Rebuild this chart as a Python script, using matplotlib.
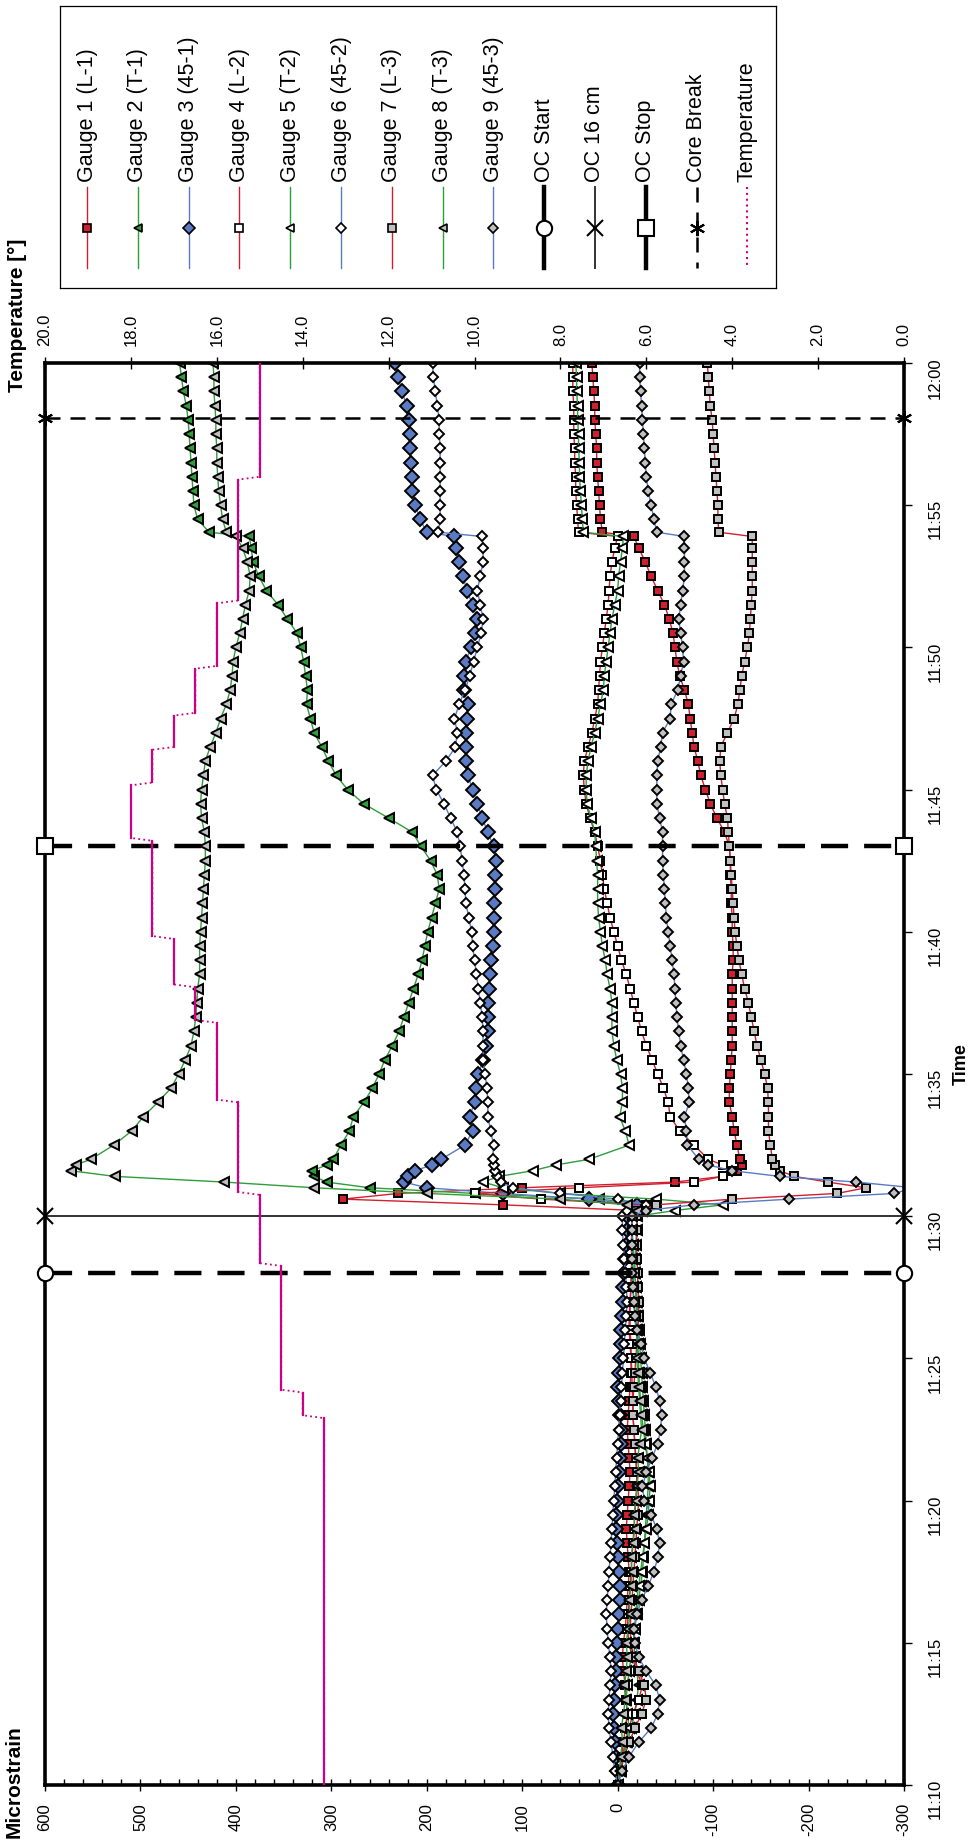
import matplotlib
matplotlib.use("Agg")
import matplotlib.pyplot as plt
from matplotlib.ticker import MultipleLocator, FixedLocator, FuncFormatter

plt.rcParams["font.family"] = ["Liberation Sans", "DejaVu Sans"]
plt.rcParams["axes.unicode_minus"] = False

# sampling clock, minutes after 11:00
TIME_PRE = [10.0 + 0.5 * i for i in range(40)]      # 11:10 .. 11:29:30
TIME_CUT = [30.0, 30.2, 30.4, 30.6, 30.8, 31.0, 31.2, 31.4, 31.6, 31.8, 32.0]
TIME_POST = [32.5 + 0.5 * i for i in range(43)]     # 11:32:30 .. 11:53:30
TIME_STEP = [53.9, 54.05]
TIME_END = [54.5 + 0.5 * i for i in range(12)]      # 11:54:30 .. 12:00
TIME = TIME_PRE + TIME_CUT + TIME_POST + TIME_STEP + TIME_END

# microstrain
GAUGE_1 = [
    0, -2, -4, -6, -8, -10, -9, -8, -6, -5,
    -6, -8, -9, -10, -11, -12, -11, -10, -9, -10,
    -11, -12, -13, -12, -11, -10, -11, -12, -13, -14,
    -14, -13, -12, -12, -13, -14, -15, -15, -14, -15,
    -15, -20, 120, 288, 230, 100, -60, -110, -125, -130, -128,
    -125, -122, -120, -117, -117, -118, -119, -120, -120, -120,
    -120, -120, -120, -121, -121, -120, -120, -119, -119, -118,
    -118, -117, -112, -104, -97, -92, -87, -84, -80, -78,
    -76, -74, -70, -65, -62, -60, -58, -54, -49, -42,
    -35, -29, -22,
    -17, 16,
    18, 19, 20, 21, 22, 22, 23, 24, 24, 25, 26, 27,
]
GAUGE_2 = [
    0, -3, -6, -10, -14, -18, -20, -22, -20, -18,
    -17, -18, -20, -22, -24, -26, -27, -28, -29, -30,
    -31, -32, -32, -31, -30, -29, -28, -27, -26, -25,
    -24, -23, -22, -21, -20, -19, -18, -17, -16, -15,
    -15, -25, -40, 20, 150, 260, 305, 318, 320, 305, 298,
    290, 281, 277, 266, 257, 250, 244, 236, 229, 224,
    219, 214, 209, 205, 202, 199, 195, 191, 187, 189,
    196, 206, 215, 240, 266, 283, 295, 303, 310, 318,
    322, 326, 325, 327, 329, 332, 336, 346, 356, 368,
    376, 382, 384,
    386, 428,
    440, 444, 445, 446, 447, 448, 449, 450, 452, 455, 457, 459,
]
GAUGE_3 = [
    0, 1, 2, 3, 4, 5, 4, 3, 2, 2,
    1, 0, -1, -2, -2, -1, 0, 1, 2, 2,
    1, 0, -1, -2, -3, -3, -2, -1, 0, -1,
    -2, -3, -4, -5, -6, -6, -7, -8, -9, -10,
    -10, -15, -20, 30, 120, 200, 224, 220, 212, 195, 185,
    160, 152, 155, 150, 148, 146, 141, 138, 136, 136,
    136, 135, 134, 133, 131, 130, 130, 130, 129, 128,
    127, 130, 136, 142, 147, 152, 157, 159, 159, 159,
    158, 157, 161, 161, 159, 154, 149, 147, 152, 158,
    162, 166, 169,
    171, 200,
    207, 212, 215, 216, 217, 218, 218, 219, 221, 226, 230, 233,
]
GAUGE_4 = [
    0, -2, -5, -8, -12, -16, -22, -26, -20, -15,
    -12, -10, -11, -12, -13, -14, -15, -16, -17, -18,
    -19, -20, -20, -19, -18, -17, -16, -16, -15, -15,
    -14, -14, -13, -13, -13, -14, -14, -15, -15, -15,
    -15, -20, -30, 80, 150, 40, -80, -110, -120, -110, -95,
    -80, -65, -55, -53, -48, -42, -36, -30, -25, -21,
    -17, -13, -9, -4, 0, 4, 8, 11, 14, 16,
    18, 21, 24, 29, 33, 35, 36, 35, 31, 27,
    24, 21, 20, 19, 18, 16, 14, 12, 10, 9,
    8, 6, 3,
    0, 41,
    42, 43, 44, 44, 45, 45, 46, 46, 46, 47, 47, 47,
]
GAUGE_5 = [
    0, -3, -6, -9, -12, -10, -9, -10, -12, -14,
    -16, -18, -19, -20, -22, -24, -26, -28, -30, -32,
    -33, -34, -33, -31, -29, -27, -25, -24, -23, -22,
    -22, -21, -20, -20, -19, -19, -18, -18, -19, -20,
    -20, -60, -110, -40, 60, 120, 141, 124, 89, 65, 30,
    -12, -8, -2, -5, -5, -3, 1, 4, 6, 6,
    6, 8, 11, 13, 16, 18, 20, 21, 21, 21,
    22, 23, 24, 28, 32, 33, 33, 31, 28, 24,
    21, 18, 15, 14, 12, 10, 8, 6, 3, 0,
    -1, -3, -5,
    -6, 36,
    37, 38, 39, 40, 40, 41, 41, 42, 42, 43, 43, 44,
]
GAUGE_6 = [
    0, 3, 5, 7, 9, 10, 9, 8, 7, 8,
    10, 11, 12, 11, 10, 9, 8, 7, 6, 5,
    4, 3, 2, 1, 0, -1, -2, -3, -4, -5,
    -6, -7, -8, -9, -10, -9, -8, -7, -6, -5,
    -5, -10, -30, 0, 60, 110, 122, 126, 128, 130, 131,
    130, 133, 136, 136, 137, 139, 141, 141, 141, 142,
    144, 146, 148, 150, 152, 153, 156, 159, 160, 161,
    163, 165, 168, 175, 182, 190, 194, 180, 170, 168,
    171, 166, 160, 155, 151, 147, 143, 141, 144, 147,
    144, 141, 141,
    142, 188,
    186, 186, 186, 186, 186, 186, 187, 187, 189, 191, 193, 194,
]
GAUGE_7 = [
    0, -3, -7, -12, -18, -25, -30, -28, -22, -17,
    -14, -13, -14, -15, -16, -17, -18, -19, -20, -21,
    -22, -21, -20, -19, -18, -17, -16, -16, -17, -18,
    -19, -20, -21, -22, -22, -21, -21, -20, -20, -20,
    -20, -25, -40, -120, -230, -260, -220, -185, -170, -165, -162,
    -160, -158, -158, -158, -157, -154, -150, -146, -143, -140,
    -137, -133, -130, -127, -125, -123, -122, -121, -120, -119,
    -118, -117, -116, -115, -112, -110, -108, -107, -108, -115,
    -122, -126, -128, -130, -133, -136, -138, -139, -140, -141,
    -141, -141, -141,
    -141, -106,
    -105, -105, -104, -103, -102, -101, -100, -99, -97, -96, -95, -94,
]
GAUGE_8 = [
    0, -2, -3, -5, -4, -6, -8, -7, -9, -10,
    -9, -11, -13, -12, -14, -15, -14, -16, -18, -17,
    -19, -20, -22, -21, -23, -25, -24, -23, -22, -21,
    -20, -21, -19, -18, -17, -16, -17, -15, -16, -15,
    -15, -20, -10, 60, 200, 318, 412, 527, 573, 568, 552,
    528, 509, 497, 482, 468, 460, 453, 447, 444, 442,
    441, 440, 438, 438, 438, 437, 436, 435, 434, 433,
    432, 432, 433, 436, 437, 436, 434, 432, 427, 421,
    416, 410, 406, 404, 403, 400, 396, 393, 390, 386,
    385, 388, 393,
    400, 410,
    414, 416, 418, 419, 420, 420, 421, 421, 422, 423, 423, 424,
]
GAUGE_9 = [
    0, -5, -12, -22, -35, -42, -44, -40, -30, -22,
    -18, -17, -20, -25, -32, -38, -42, -44, -41, -35,
    -28, -26, -30, -36, -42, -45, -46, -44, -40, -34,
    -28, -24, -20, -18, -17, -16, -15, -15, -15, -15,
    -15, -30, -80, -180, -290, -310, -250, -170, -120, -95, -85,
    -73, -72, -70, -75, -74, -72, -69, -66, -64, -62,
    -61, -60, -59, -57, -55, -53, -51, -50, -49, -48,
    -47, -47, -47, -44, -41, -41, -41, -42, -45, -47,
    -55, -56, -63, -66, -69, -68, -66, -64, -66, -68,
    -70, -70, -70,
    -70, -41,
    -38, -35, -32, -30, -29, -28, -27, -26, -25, -24, -23, -23,
]
GAUGES = [GAUGE_1, GAUGE_2, GAUGE_3, GAUGE_4, GAUGE_5,
          GAUGE_6, GAUGE_7, GAUGE_8, GAUGE_9]
GAUGE_NAMES = ["Gauge 1 (L-1)", "Gauge 2 (T-1)", "Gauge 3 (45-1)",
               "Gauge 4 (L-2)", "Gauge 5 (T-2)", "Gauge 6 (45-2)",
               "Gauge 7 (L-3)", "Gauge 8 (T-3)", "Gauge 9 (45-3)"]

# overcoring events (time) drawn across the whole strain range
EVENT_NAMES = ["OC Start", "OC 16 cm", "OC Stop", "Core Break"]
EVENT_TIMES = [28.0, 30.0, 43.0, 58.05]
EVENT_SPAN = [600, -300]

# temperature steps [°], secondary axis
TEMP_TIME = [10.0, 22.9, 23.0, 23.8, 23.9, 28.25, 28.35, 30.75, 30.85, 34.0,
             34.1, 36.8, 36.9, 38.05, 38.15, 39.75, 39.85, 43.2, 43.3, 45.15,
             45.25, 46.4, 46.5, 47.6, 47.7, 49.25, 49.35, 51.55, 51.65, 55.9,
             56.0, 60.0]
TEMP_VALUE = [13.5, 13.5, 14.0, 14.0, 14.5, 14.5, 15.0, 15.0, 15.5, 15.5,
              16.0, 16.0, 16.5, 16.5, 17.0, 17.0, 17.5, 17.5, 18.0, 18.0,
              17.5, 17.5, 17.0, 17.0, 16.5, 16.5, 16.0, 16.0, 15.5, 15.5,
              15.0, 15.0]

for g in GAUGES:
    assert len(g) == len(TIME)

RED, GREEN, BLUE, GRAY = "#D0202E", "#2E9E3A", "#5A7BC4", "#C0C0C0"
MAGENTA = "#CC0080"
STYLES = [
    dict(color=RED, marker="s", mfc=RED, ms=5.8),
    dict(color=GREEN, marker="<", mfc=GREEN, ms=7),
    dict(color=BLUE, marker="D", mfc=BLUE, ms=7.2),
    dict(color=RED, marker="s", mfc="white", ms=5.8),
    dict(color=GREEN, marker="<", mfc="white", ms=7),
    dict(color=BLUE, marker="D", mfc="white", ms=5.2),
    dict(color=RED, marker="s", mfc=GRAY, ms=5.8),
    dict(color=GREEN, marker="<", mfc=GRAY, ms=7),
    dict(color=BLUE, marker="D", mfc=GRAY, ms=5.2),
]
EVENT_STYLES = [
    dict(color="black", lw=3.2, ls=(0, (6.1, 3.6)), marker="o", ms=11, mfc="white"),
    dict(color="#333333", lw=1.4, ls="-", marker="x", ms=11, mfc="white"),
    dict(color="black", lw=3.2, ls=(0, (6.1, 3.6)), marker="s", ms=11, mfc="white"),
    dict(color="black", lw=1.8, ls=(0, (6, 4)), marker=(6, 2, 0), ms=11, mfc="white"),
]

fig = plt.figure(figsize=(9.75, 18.47), dpi=100)
ax = fig.add_axes([45 / 975, 1 - 1785 / 1847, 859 / 975, 1422 / 1847])

for vals, st in zip(GAUGES, STYLES):
    ax.plot(vals, TIME, lw=1.0, mec="black", mew=1.4, **st)

for t, st in zip(EVENT_TIMES, EVENT_STYLES):
    ax.plot(EVENT_SPAN, [t, t], mec="black", mew=1.5, clip_on=False, zorder=5, **st)

ax.set_xlim(600, -300)
ax.set_ylim(10, 60)
ax.xaxis.set_major_locator(MultipleLocator(100))
ax.xaxis.set_minor_locator(MultipleLocator(20))
ax.xaxis.set_major_formatter(FuncFormatter(lambda v, p: f"{v:.0f}"))
ax.tick_params(axis="x", which="major", direction="inout", length=8, width=1,
               labelrotation=90, labelsize=12, pad=9)
ax.tick_params(axis="x", which="minor", direction="in", length=4, width=1)

ax.yaxis.tick_right()
ax.yaxis.set_major_locator(FixedLocator(list(range(10, 61, 5))))
ax.yaxis.set_major_formatter(FuncFormatter(
    lambda v, p: f"{11 + int(round(v)) // 60}:{int(round(v)) % 60:02d}"))
ax.tick_params(axis="y", direction="out", length=6, width=1, pad=11,
               labelrotation=90, labelsize=12)
for sp in ax.spines.values():
    sp.set_linewidth(2.6)

ax2 = ax.twiny()
ax2.plot(TEMP_VALUE, TEMP_TIME, color=MAGENTA, lw=1.3, ls=(0, (1, 1.8)))
for i in range(0, len(TEMP_TIME), 2):
    ax2.plot(TEMP_VALUE[i:i + 2], TEMP_TIME[i:i + 2], color=MAGENTA, lw=1.6)
ax2.set_xlim(20, 0)
ax2.xaxis.set_major_locator(MultipleLocator(2))
ax2.xaxis.set_major_formatter(FuncFormatter(lambda v, p: f"{v:.1f}"))
ax2.tick_params(axis="x", direction="inout", length=8, width=1,
                labelrotation=90, labelsize=12, pad=8)
for sp in ax2.spines.values():
    sp.set_visible(False)

fig.text(14 / 975, 1 - 1782 / 1847, "Microstrain", rotation=90, fontsize=15,
         fontweight="bold", ha="center", va="center")
fig.text(18 / 975, 1 - 315 / 1847, "Temperature [°]", rotation=90, fontsize=15,
         fontweight="bold", ha="center", va="center")
fig.text(961 / 975, 1 - 1064 / 1847, "Time", rotation=90, fontsize=13,
         fontweight="bold", ha="center", va="center")

# legend, drawn by hand because the whole chart is turned on its side
lax = fig.add_axes([60 / 975, 1 - 288 / 1847, 716 / 975, 282 / 1847])
lax.set_xlim(60, 776)
lax.set_ylim(288, 6)
lax.set_xticks([])
lax.set_yticks([])
for sp in lax.spines.values():
    sp.set_linewidth(0.9)

entries = []
for name, st in zip(GAUGE_NAMES, STYLES):
    entries.append((name, dict(color=st["color"], lw=1.0, ls="-"),
                    dict(marker=st["marker"], mfc=st["mfc"], ms=st["ms"] * 0.9, mew=1.2)))
for name, st in zip(EVENT_NAMES, EVENT_STYLES):
    ls = "-" if st["lw"] > 3 else st["ls"]
    entries.append((name, dict(color=st["color"], lw=st["lw"], ls=ls),
                    dict(marker=st["marker"], mfc=st["mfc"], ms=st["ms"], mew=1.5)))
entries.append(("Temperature", dict(color=MAGENTA, lw=1.5, ls=(0, (1, 1.8))), None))

for i, (name, lkw, mkw) in enumerate(entries):
    x = 87 + 50.8 * i
    lax.plot([x, x], [187, 268], **lkw)
    if mkw:
        lax.plot([x], [228], ls="none", mec="black", **mkw)
    lax.text(x, 182, name, rotation=90, ha="center", va="bottom", fontsize=15.5)

fig.savefig("out.png", dpi=100)
